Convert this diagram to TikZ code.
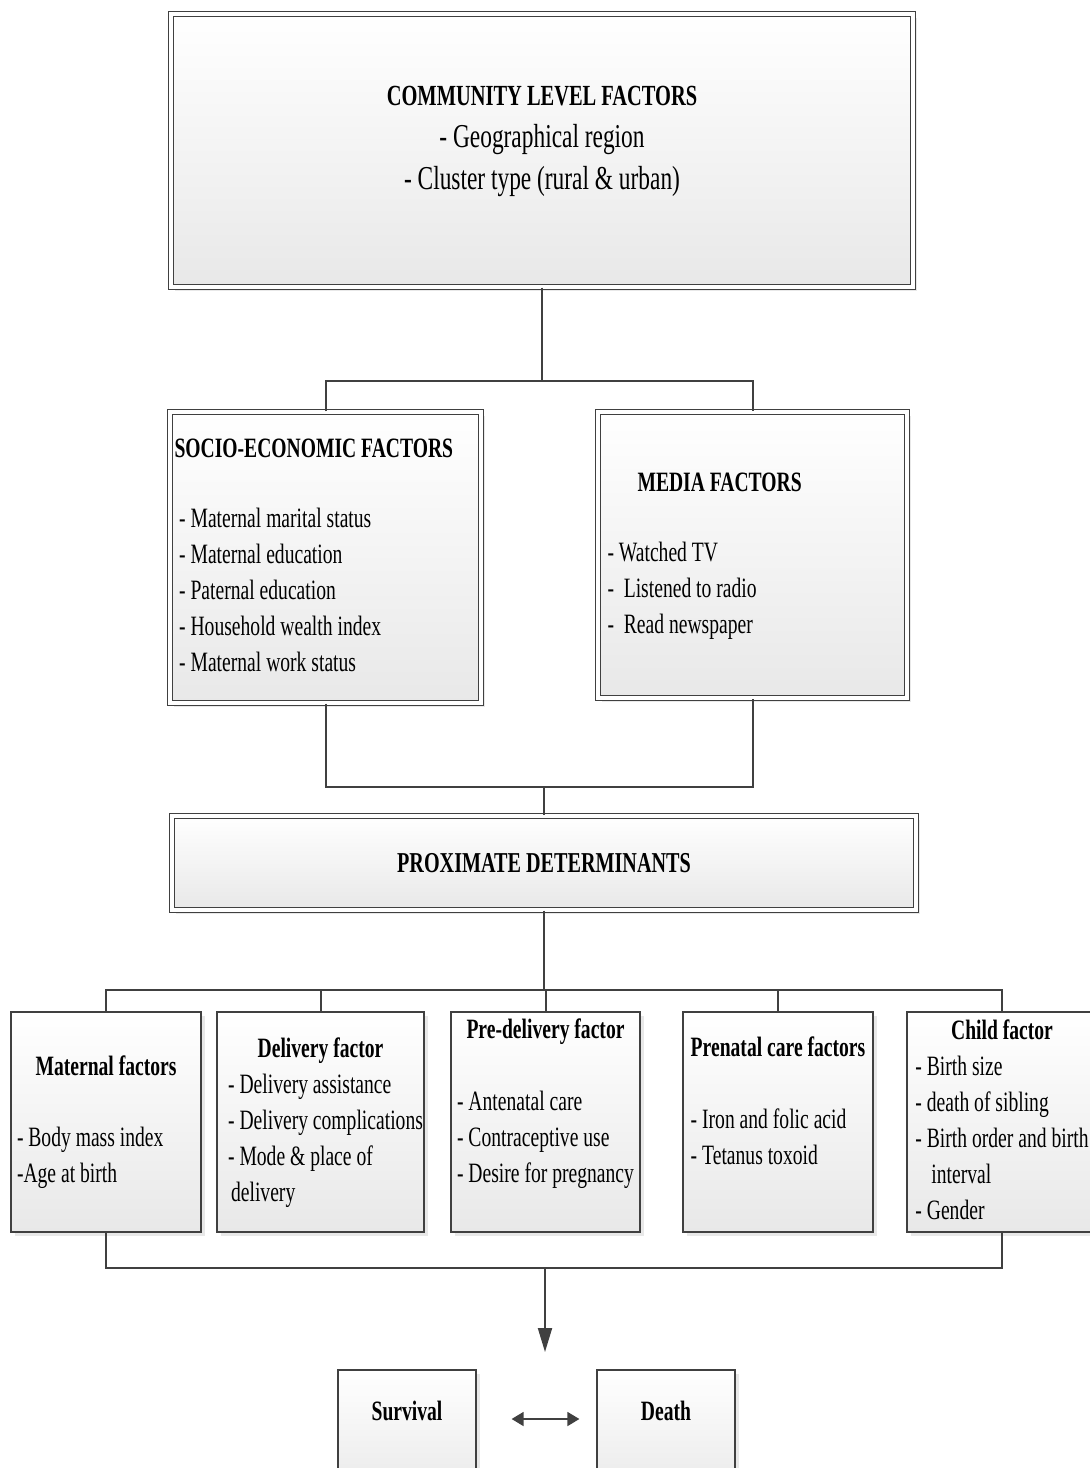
\documentclass[tikz,border=0pt]{standalone}
\usepackage{fontspec}
\setmainfont{Liberation Serif}[FakeStretch=0.7]
\usetikzlibrary{positioning,shadows,arrows.meta,calc}
\newcommand{\ttl}[1]{\multicolumn{1}{@{}c@{}}{\bfseries #1}}
\tikzset{
  box/.style={top color=white,bottom color=black!9,draw=black!75,line width=0.6pt,
    drop shadow={shadow xshift=2pt,shadow yshift=-2pt,fill=black!18},
    inner sep=0pt,font=\fontsize{14}{18}\selectfont},
  dbox/.style={box,double=white,double distance=1.6pt},
  link/.style={draw=black!75,line width=1pt},
}

\begin{document}
\begin{tikzpicture}[x=0.5pt,y=-0.5pt,>={Triangle[length=12pt,width=7pt]}]
  \useasboundingbox (0,0) rectangle (1089,1468);
  % distal level
  \node[dbox,minimum width=371pt,minimum height=136.5pt,font=\fontsize{16.7}{21}\selectfont] (comm) at (542,150.5)
    {\begin{tabular}{@{}c@{}}{\fontsize{14.6}{21}\selectfont\bfseries COMMUNITY LEVEL FACTORS}\\
     - Geographical region\\ - Cluster type (rural \& urban)\\[11pt]\end{tabular}};
  \node[dbox,minimum width=155.5pt,minimum height=145.5pt] (se) at (325.5,557.5)
    {\begin{tabular}{@{}p{151pt}@{}}\textbf{SOCIO-ECONOMIC FACTORS}\\[17pt]
     \,- Maternal marital status\\ \,- Maternal education\\ \,- Paternal education\\
     \,- Household wealth index\\ \,- Maternal work status\end{tabular}};
  \node[dbox,minimum width=154.5pt,minimum height=143pt] (med) at (752.5,555)
    {\begin{tabular}{@{}p{145pt}@{}}\hspace*{15pt}\textbf{MEDIA FACTORS}\\[17pt]
     - Watched TV\\ -~~Listened to radio\\ -~~Read newspaper\end{tabular}};
  \node[dbox,minimum width=372pt,minimum height=47pt,font=\fontsize{14.4}{18}\selectfont\bfseries] (prox) at (544,863)
    {PROXIMATE DETERMINANTS};
  % proximate factors
  \node[box,minimum width=95pt,minimum height=110pt] (mat) at (106,1122)
    {\begin{tabular}{@{}p{89pt}@{}}\ttl{Maternal factors}\\[17.5pt]
     - Body mass index\\ -Age at birth\end{tabular}};
  \node[box,minimum width=103.5pt,minimum height=110pt] (del) at (320.5,1122)
    {\begin{tabular}{@{\hspace{5pt}}l@{}}\ttl{Delivery factor}\\ - Delivery assistance\\
     - Delivery complications\\ - Mode \& place of\\ \hspace*{1.5pt}delivery\end{tabular}};
  \node[box,minimum width=94.5pt,minimum height=110pt] (pre) at (545.5,1122)
    {\begin{tabular}{@{}l@{}}\ttl{Pre-delivery factor}\\[18pt] - Antenatal care\\
     - Contraceptive use\\ - Desire for pregnancy\\[19pt]\end{tabular}};
  \node[box,minimum width=95pt,minimum height=110pt] (pren) at (778,1122)
    {\begin{tabular}{@{}l@{}}\ttl{Prenatal care factors}\\[18pt] - Iron and folic acid\\
     - Tetanus toxoid\\[19pt]\end{tabular}};
  \node[box,minimum width=95pt,minimum height=110pt] (child) at (1002,1122)
    {\begin{tabular}{@{}l@{}}\ttl{Child factor}\\ - Birth size\\ - death of sibling\\
     - Birth order and birth\\ \hspace*{8pt}interval\\ - Gender\end{tabular}};
  % outcome
  \node[box,minimum width=69pt,minimum height=65pt,font=\fontsize{14}{18}\selectfont\bfseries] (surv) at (407,1435)
    {\begin{tabular}{@{}c@{}}Survival\\[22pt]\end{tabular}};
  \node[box,minimum width=69pt,minimum height=65pt,font=\fontsize{14}{18}\selectfont\bfseries] (death) at (666,1435)
    {\begin{tabular}{@{}c@{}}Death\\[22pt]\end{tabular}};
  % connectors
  \coordinate (busA) at (542,381);
  \coordinate (busB) at (544,787);
  \coordinate (busC) at (544,990);
  \coordinate (busD) at (545,1268);
  \coordinate (outc) at (545,1352);
  \draw[link] (comm.south) -- (busA);
  \draw[link] (se.north) |- (busA) -| (med.north);
  \draw[link] (se.south) |- (busB) -| (med.south);
  \draw[link] (busB) -- (prox.north);
  \draw[link] (prox.south) -- (busC);
  \draw[link] (mat.north) |- (busC) -| (child.north);
  \foreach \n in {del,pre,pren}
    \draw[link] (\n.north) -- (\n.north |- busC);
  \draw[link] (mat.south) |- (busD) -| (child.south);
  \draw[link,->] (busD) -- (outc);
  \draw[link,line width=0.8pt,{Triangle[length=6pt,width=7pt]}-{Triangle[length=6pt,width=7pt]},
    shorten <=17.5pt,shorten >=8.5pt] ([yshift=8pt]surv.east) -- ([yshift=8pt]death.west);
\end{tikzpicture}
\end{document}
